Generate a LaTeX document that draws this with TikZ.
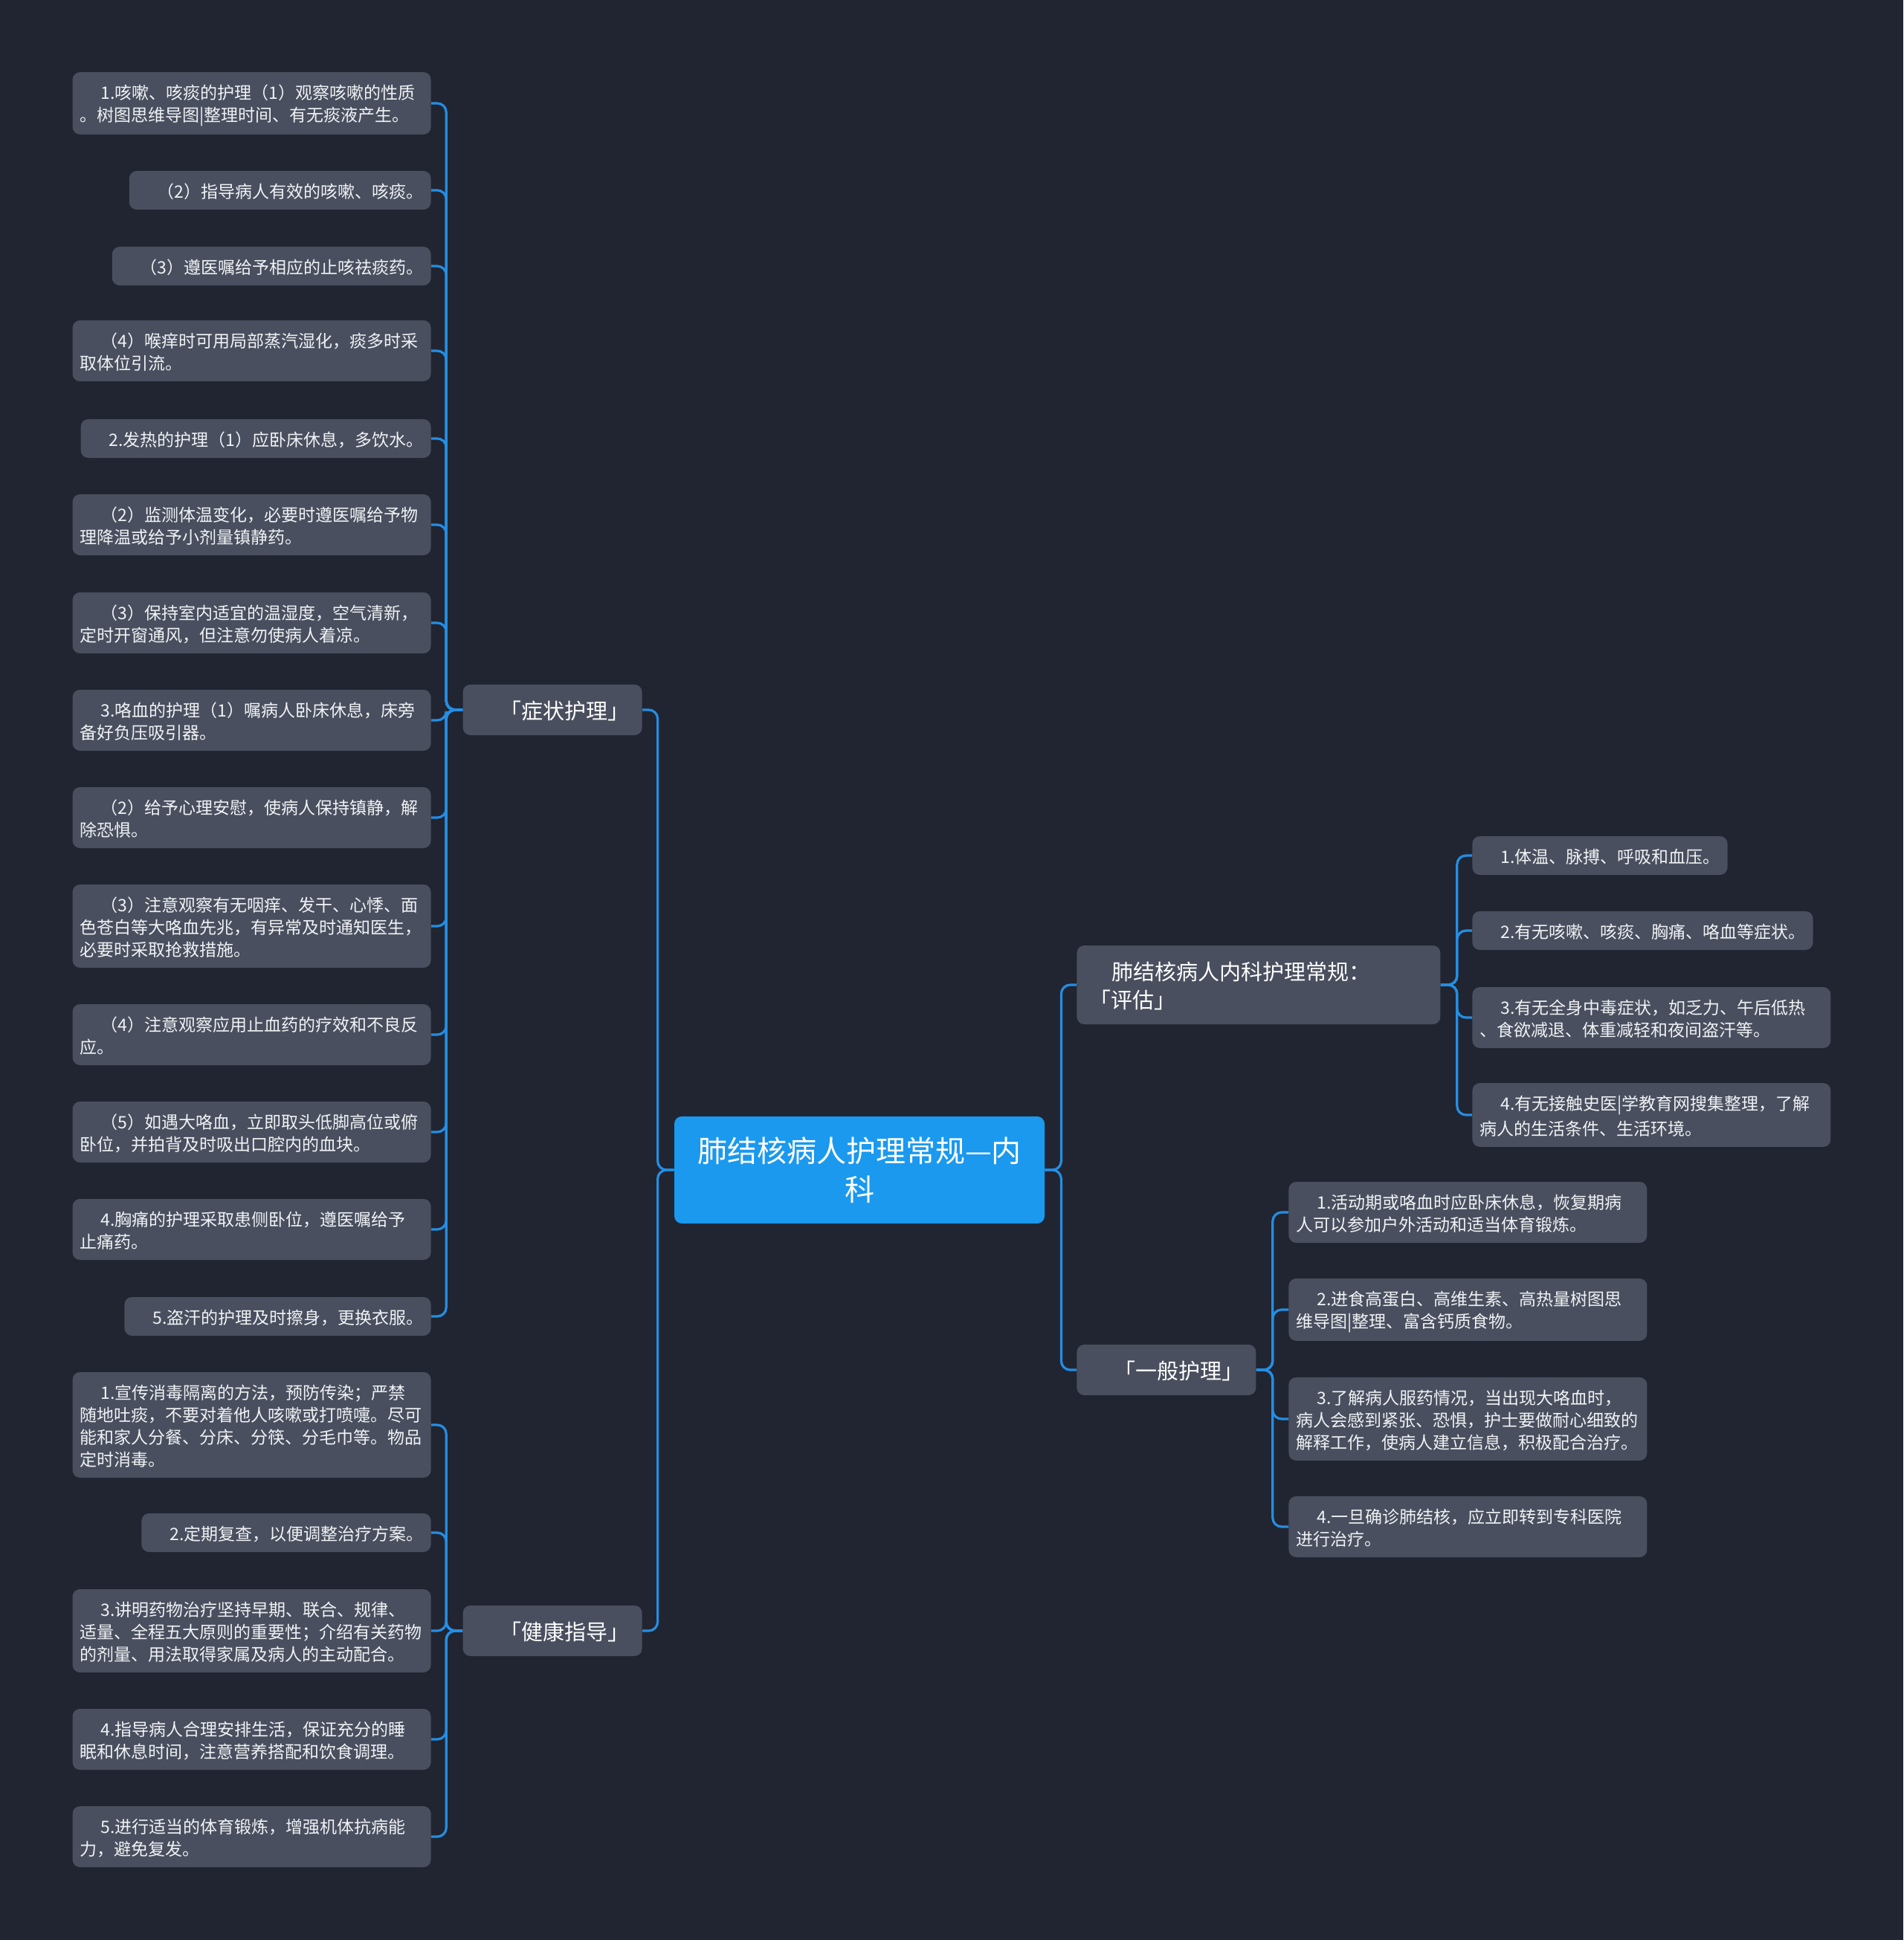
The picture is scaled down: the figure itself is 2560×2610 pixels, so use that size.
\documentclass[tikz,border=0pt]{standalone}
\usepackage{fontspec}
\usepackage{xcolor}
\newfontfamily\cjkfont{Noto Sans CJK SC}
\definecolor{bgnavy}{RGB}{33,37,49}
\definecolor{boxgray}{RGB}{73,79,94}
\definecolor{linkblue}{RGB}{36,142,228}
\definecolor{rootblue}{RGB}{26,153,239}
\definecolor{textwhite}{RGB}{240,242,245}
\newcommand\lstrut{\rule[-2.3pt]{0pt}{15pt}}
\newcommand\bstrut{\rule[-3.2pt]{0pt}{19pt}}
\newcommand\rstrut{\rule[-5.4pt]{0pt}{26pt}}
\tikzset{
  leaf/.style={fill=boxgray, rounded corners=5pt, inner xsep=5pt, inner ysep=5.5pt,
    text=textwhite, font=\cjkfont\fontsize{11.5}{15}\selectfont, align=left,
    execute at begin node={\lstrut\hspace*{14pt}}, execute at end node=\lstrut},
  wide/.style={text width=231pt},
  branch/.style={fill=boxgray, rounded corners=5pt, inner xsep=8.5pt, inner ysep=7.5pt,
    text=white, font=\cjkfont\fontsize{14.5}{19}\selectfont, text width=103.5pt, align=right,
    execute at begin node=\bstrut, execute at end node=\bstrut},
  rootbox/.style={fill=rootblue, rounded corners=5pt, inner xsep=9.5pt, inner ysep=10pt,
    text=white, font=\cjkfont\fontsize{20}{26}\selectfont, text width=230pt, align=center,
    execute at begin node=\rstrut, execute at end node=\rstrut},
  link/.style={draw=linkblue, line width=1.6pt, rounded corners=6pt},
}

\begin{document}
\begin{tikzpicture}[x=0.5pt, y=-0.5pt]
    % Canvas
    \useasboundingbox (0,0) rectangle (2560,2610);
    \fill[bgnavy] (0,0) rectangle (2560,2610);

    % Root
    \node[rootbox] (root) at (1156,1574) {肺结核病人护理常规—内\\科};

    % Main branches
    \node[branch, anchor=east] (sym) at (864,955) {「症状护理」};
    \node[branch, anchor=east] (health) at (864,2194) {「健康指导」};
    \node[branch, anchor=west, text width=227.5pt, align=left] (eval) at (1448,1325)
        {\hspace*{15pt}肺结核病人内科护理常规：\\「评估」};
    \node[branch, anchor=west] (gen) at (1448,1843) {「一般护理」};

    % Symptom care
    \node[leaf, wide, anchor=east] (s1) at (580,139) {1.咳嗽、咳痰的护理（1）观察咳嗽的性质\\。树图思维导图|整理时间、有无痰液产生。};
    \node[leaf, anchor=east] (s2) at (580,256) {（2）指导病人有效的咳嗽、咳痰。};
    \node[leaf, anchor=east] (s3) at (580,358) {（3）遵医嘱给予相应的止咳祛痰药。};
    \node[leaf, wide, anchor=east] (s4) at (580,472) {（4）喉痒时可用局部蒸汽湿化，痰多时采\\取体位引流。};
    \node[leaf, anchor=east] (s5) at (580,590) {2.发热的护理（1）应卧床休息，多饮水。};
    \node[leaf, wide, anchor=east] (s6) at (580,706) {（2）监测体温变化，必要时遵医嘱给予物\\理降温或给予小剂量镇静药。};
    \node[leaf, wide, anchor=east] (s7) at (580,838) {（3）保持室内适宜的温湿度，空气清新，\\定时开窗通风，但注意勿使病人着凉。};
    \node[leaf, wide, anchor=east] (s8) at (580,969) {3.咯血的护理（1）嘱病人卧床休息，床旁\\备好负压吸引器。};
    \node[leaf, wide, anchor=east] (s9) at (580,1100) {（2）给予心理安慰，使病人保持镇静，解\\除恐惧。};
    \node[leaf, wide, anchor=east] (s10) at (580,1246) {（3）注意观察有无咽痒、发干、心悸、面\\色苍白等大咯血先兆，有异常及时通知医生，\\必要时采取抢救措施。};
    \node[leaf, wide, anchor=east] (s11) at (580,1392) {（4）注意观察应用止血药的疗效和不良反\\应。};
    \node[leaf, wide, anchor=east] (s12) at (580,1523) {（5）如遇大咯血，立即取头低脚高位或俯\\卧位，并拍背及时吸出口腔内的血块。};
    \node[leaf, wide, anchor=east] (s13) at (580,1654) {4.胸痛的护理采取患侧卧位，遵医嘱给予\\止痛药。};
    \node[leaf, anchor=east] (s14) at (580,1771) {5.盗汗的护理及时擦身，更换衣服。};

    % Health guidance
    \node[leaf, wide, anchor=east] (h1) at (580,1917) {1.宣传消毒隔离的方法，预防传染；严禁\\随地吐痰，不要对着他人咳嗽或打喷嚏。尽可\\能和家人分餐、分床、分筷、分毛巾等。物品\\定时消毒。};
    \node[leaf, anchor=east] (h2) at (580,2062) {2.定期复查，以便调整治疗方案。};
    \node[leaf, wide, anchor=east] (h3) at (580,2194) {3.讲明药物治疗坚持早期、联合、规律、\\适量、全程五大原则的重要性；介绍有关药物\\的剂量、用法取得家属及病人的主动配合。};
    \node[leaf, wide, anchor=east] (h4) at (580,2340) {4.指导病人合理安排生活，保证充分的睡\\眠和休息时间，注意营养搭配和饮食调理。};
    \node[leaf, wide, anchor=east] (h5) at (580,2471) {5.进行适当的体育锻炼，增强机体抗病能\\力，避免复发。};

    % Assessment
    \node[leaf, anchor=west] (e1) at (1980,1151) {1.体温、脉搏、呼吸和血压。};
    \node[leaf, anchor=west] (e2) at (1980,1252) {2.有无咳嗽、咳痰、胸痛、咯血等症状。};
    \node[leaf, wide, anchor=west] (e3) at (1980,1369) {3.有无全身中毒症状，如乏力、午后低热\\、食欲减退、体重减轻和夜间盗汗等。};
    \node[leaf, wide, anchor=west] (e4) at (1980,1500) {4.有无接触史医|学教育网搜集整理，了解\\病人的生活条件、生活环境。};

    % General care
    \node[leaf, wide, anchor=west] (g1) at (1733,1631) {1.活动期或咯血时应卧床休息，恢复期病\\人可以参加户外活动和适当体育锻炼。};
    \node[leaf, wide, anchor=west] (g2) at (1733,1762) {2.进食高蛋白、高维生素、高热量树图思\\维导图|整理、富含钙质食物。};
    \node[leaf, wide, anchor=west] (g3) at (1733,1909) {3.了解病人服药情况，当出现大咯血时，\\病人会感到紧张、恐惧，护士要做耐心细致的\\解释工作，使病人建立信息，积极配合治疗。};
    \node[leaf, wide, anchor=west] (g4) at (1733,2054) {4.一旦确诊肺结核，应立即转到专科医院\\进行治疗。};

    % Links
    \foreach \b in {sym,health}
        \draw[link] (root.west) -- ++(-22,0) |- (\b.east);
    \foreach \b in {eval,gen}
        \draw[link] (root.east) -- ++(22,0) |- (\b.west);
    \foreach \i in {1,...,14}
        \draw[link] (sym.west) -- ++(-22,0) |- (s\i.east);
    \foreach \i in {1,...,5}
        \draw[link] (health.west) -- ++(-22,0) |- (h\i.east);
    \foreach \i in {1,...,4}
        \draw[link] (eval.east) -- ++(22,0) |- (e\i.west);
    \foreach \i in {1,...,4}
        \draw[link] (gen.east) -- ++(22,0) |- (g\i.west);
\end{tikzpicture}
\end{document}
